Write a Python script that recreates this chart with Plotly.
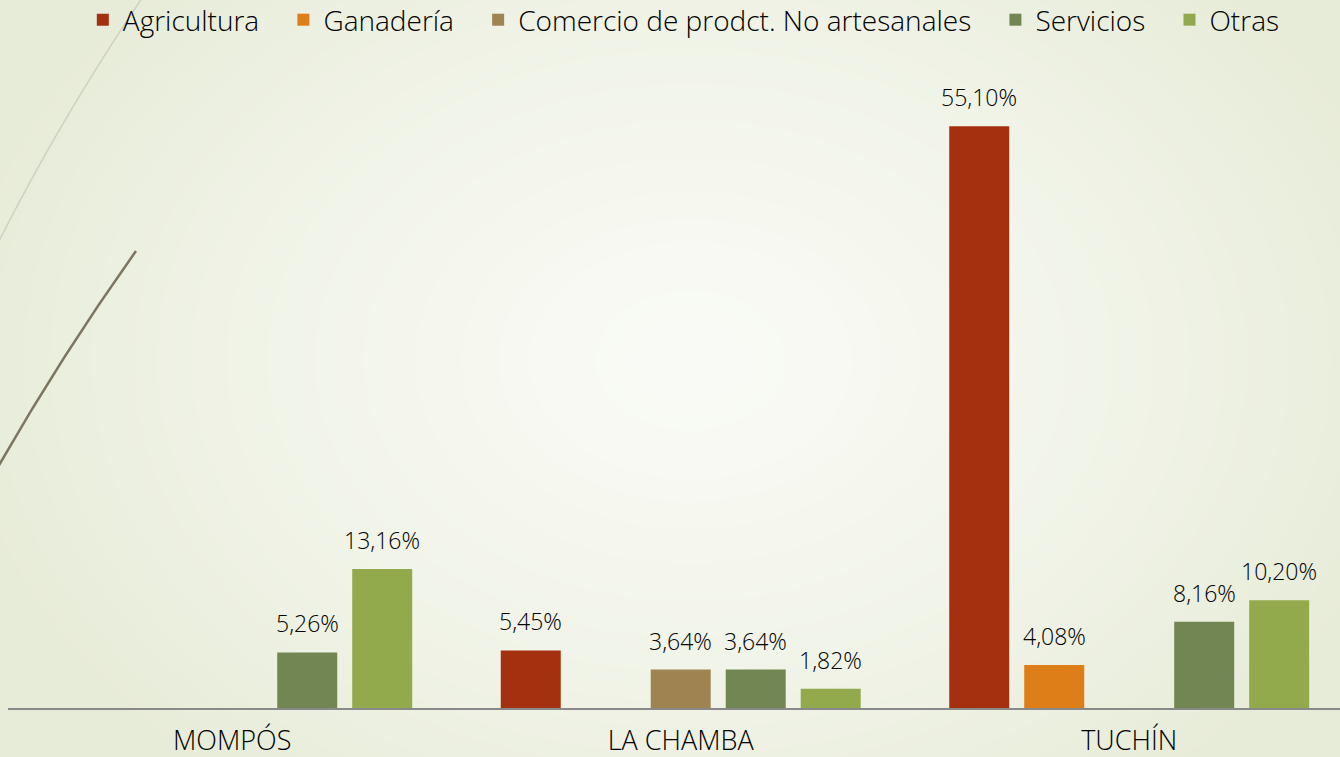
import numpy as np
import zlib, struct, base64
import plotly.graph_objects as go

categories = ["MOMPÓS", "LA CHAMBA", "TUCHÍN"]
series_names = ["Agricultura", "Ganadería", "Comercio de prodct. No artesanales", "Servicios", "Otras"]
agricultura = [None, 5.45, 55.10]
ganaderia = [None, None, 4.08]
comercio = [None, 3.64, None]
servicios = [5.26, 3.64, 8.16]
otras = [13.16, 1.82, 10.20]
colors = ["#A5300F", "#DE7E18", "#9F8351", "#728653", "#92AA4C"]

W, H = 1340, 757
ML, MR, MT, MB = 8, 0, 80, 49
PW, PH = W - ML - MR, H - MT - MB
BARGAP = 0.164
FONT = "Open Sans, sans-serif"
TXT = "#000000"

# background gradient image
yy, xx = np.mgrid[0:H, 0:W].astype(float)
d = np.sqrt(((xx - 690) / 760.0) ** 2 + ((yy - 360) / 560.0) ** 2)
d = np.clip(d, 0, 1) ** 1.3
c0 = np.array([250, 251, 246], float)
c1 = np.array([231, 236, 216], float)
img = (c0[None, None, :] * (1 - d[..., None]) + c1[None, None, :] * d[..., None]).astype(np.uint8)
raw = b"".join(b"\x00" + img[r].tobytes() for r in range(H))
def chunk(t, data):
    c = struct.pack(">I", len(data)) + t + data
    return c + struct.pack(">I", zlib.crc32(t + data) & 0xffffffff)
png = b"\x89PNG\r\n\x1a\n" + chunk(b"IHDR", struct.pack(">IIBBBBB", W, H, 8, 2, 0, 0, 0)) + \
      chunk(b"IDAT", zlib.compress(raw, 9)) + chunk(b"IEND", b"")
uri = "data:image/png;base64," + base64.b64encode(png).decode()

def px(x):
    return (x - ML) / PW
def py(y):
    return (H - MB - y) / PH

def fmt(v):
    return f"{v:.2f}%".replace(".", ",")

all_series = [agricultura, ganaderia, comercio, servicios, otras]
n = len(all_series)
slot = (1 - BARGAP) / n

fig = go.Figure()
annotations = []
for i, (name, vals, col) in enumerate(zip(series_names, all_series, colors)):
    fig.add_trace(go.Bar(
        name=name + "\u00a0\u00a0\u2009", x=categories, y=vals,
        marker=dict(color=col, line=dict(width=0)), hoverinfo="skip",
    ))
    for j, v in enumerate(vals):
        if v is None:
            continue
        annotations.append(dict(
            x=j + (i - (n - 1) / 2) * slot, y=v, xref="x", yref="y",
            text=fmt(v), showarrow=False, yanchor="bottom", yshift=11,
            font=dict(family=FONT, size=23, color=TXT, weight=300),
        ))

fig.update_layout(
    width=W, height=H,
    margin=dict(l=ML, r=MR, t=MT, b=MB, autoexpand=False),
    paper_bgcolor="#f1f4e6", plot_bgcolor="rgba(0,0,0,0)",
    font=dict(family=FONT, color=TXT, weight=300),
    barmode="group", bargap=BARGAP, bargroupgap=0.2,
    showlegend=True,
    legend=dict(orientation="h", x=0.5145, xanchor="center", y=py(20), yanchor="middle",
                yref="paper", font=dict(size=28, family=FONT, weight=300, color=TXT),
                itemwidth=30, traceorder="normal", bgcolor="rgba(0,0,0,0)"),
    xaxis=dict(range=[-0.5, 2.47], showline=True, linecolor="#898989", linewidth=2,
               ticks="", tickfont=dict(size=27, color=TXT, family=FONT, weight=300),
               showgrid=False, ticklabelstandoff=8),
    yaxis=dict(range=[0, 59.47], visible=False, showgrid=False, zeroline=False),
    annotations=annotations,
    images=[dict(source=uri, xref="paper", yref="paper", x=px(0), y=py(0),
                 sizex=W / PW, sizey=H / PH, xanchor="left", yanchor="top",
                 sizing="stretch", layer="below")],
    shapes=[
        dict(type="path", xref="paper", yref="paper",
             path=f"M {px(142)},{py(-2)} Q {px(60)},{py(120)} {px(-2)},{py(243)}",
             line=dict(color="#cfd0c4", width=1.5)),
        dict(type="path", xref="paper", yref="paper",
             path=f"M {px(136)},{py(251)} Q {px(62)},{py(355)} {px(-2)},{py(467)}",
             line=dict(color="#7d7562", width=2.5)),
    ],
)
fig.write_html("out.html", config={"displayModeBar": False},
               post_script="document.body.style.margin='0';document.body.style.overflow='hidden';")
